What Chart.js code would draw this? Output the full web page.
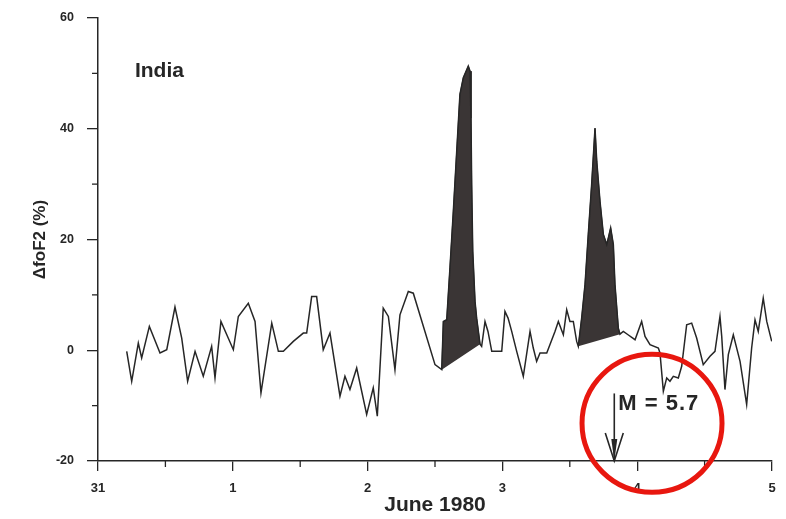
<!DOCTYPE html>
<html><head><meta charset="utf-8">
<script src="https://cdn.jsdelivr.net/npm/chart.js@4.4.1/dist/chart.umd.min.js"></script>
<style>html,body{margin:0;padding:0;background:#fff;}#wrap{width:786px;height:519px;}</style>
</head><body><div id="wrap"><canvas id="c" width="786" height="519"></canvas></div>
<script>
// Time in days since 31 May 1980 00:00
const days = [0.213,0.25,0.299,0.324,0.381,0.46,0.51,0.571,0.621,0.665,
0.72,0.781,0.843,0.868,0.912,1.004,1.041,1.115,1.165,1.209,
1.289,1.338,1.375,1.449,1.523,1.548,1.585,1.622,1.671,1.721,
1.795,1.832,1.869,1.919,1.993,2.042,2.072,2.116,2.154,2.203,
2.24,2.302,2.339,2.5,2.55,2.562,2.587,2.611,2.636,2.661,
2.685,2.71,2.747,2.76,2.767,2.772,2.78,2.797,2.809,2.834,
2.846,2.871,2.893,2.921,2.995,3.019,3.042,3.069,3.106,3.155,
3.205,3.229,3.254,3.279,3.329,3.39,3.415,3.452,3.477,3.501,
3.526,3.551,3.563,3.588,3.613,3.637,3.662,3.687,3.7,3.724,
3.749,3.774,3.786,3.803,3.823,3.835,3.86,3.872,3.897,3.932,
3.984,4.033,4.058,4.095,4.157,4.169,4.194,4.219,4.243,4.268,
4.305,4.33,4.367,4.404,4.441,4.49,4.54,4.577,4.614,4.627,
4.651,4.676,4.713,4.763,4.812,4.849,4.874,4.898,4.935,4.961,4.998];
// ΔfoF2 (%)
const dfoF2 = [-0.2,-5.6,1.3,-1.4,4.3,-0.5,0.1,7.8,2.2,-5.6,
-0.2,-4.7,0.7,-5.0,5.2,0.1,6.1,8.5,5.2,-7.7,
4.9,-0.2,-0.2,1.6,3.1,3.1,9.7,9.7,0.1,3.1,
-8.3,-4.7,-7.1,-3.2,-11.6,-6.8,-11.9,7.6,6.1,-3.5,
6.4,10.6,10.3,-2.6,-3.5,5.2,5.5,14.9,25.1,35.9,
46.2,49.2,51.3,50.4,41.9,30.0,17.9,8.8,5.8,1.1,
0.7,5.2,3.4,-0.2,-0.2,7.0,5.8,3.4,-0.2,-4.7,
3.4,0.4,-2.0,-0.5,-0.5,3.4,5.2,2.8,7.3,5.2,
5.2,1.6,0.7,5.8,11.9,20.9,29.9,40.1,34.1,26.9,
20.9,19.1,20.3,22.1,19.1,11.9,4.0,2.9,3.4,2.8,
1.9,5.2,2.5,1.0,0.4,-0.5,-7.4,-5.0,-5.6,-4.7,
-5.0,-2.9,4.6,4.9,2.2,-2.6,-1.1,-0.2,6.1,2.5,
-7.1,-0.8,2.8,-2.0,-9.8,0.4,5.5,3.4,9.4,5.2,1.6];
// Shaded enhancement windows (days)
const event1 = [2.55, 2.834];
const event2 = [3.563, 3.872];
const xTickLabels = ['31','1','2','3','4','5'];
const yMajorTicks = [-20, 0, 20, 40, 60];
const xTitle = 'June 1980';
const yTitle = 'ΔfoF2 (%)';
const stationName = 'India';
const quakeDay = 3.83;
const quakeLabel = 'M = 5.7';

const pts = days.map((d, i) => ({x: d, y: dfoF2[i]}));
const slice = (w) => pts.filter(p => p.x >= w[0] && p.x <= w[1]);
const FONT = '"Liberation Sans", Arial, sans-serif';
const INK = '#262626';

const extras = {
  id: 'extras',
  afterDraw(chart) {
    const {ctx, scales: {x, y}} = chart;
    ctx.save();
    ctx.strokeStyle = INK; ctx.lineWidth = 1.3;
    // minor ticks
    for (let v = -10; v < 60; v += 20) {
      const py = y.getPixelForValue(v);
      ctx.beginPath(); ctx.moveTo(x.left - 6, py); ctx.lineTo(x.left, py); ctx.stroke();
    }
    for (let d = 0.5; d < 5; d += 1) {
      const px = x.getPixelForValue(d);
      ctx.beginPath(); ctx.moveTo(px, y.bottom); ctx.lineTo(px, y.bottom + 6); ctx.stroke();
    }
    // station label
    ctx.fillStyle = INK;
    ctx.font = 'bold 21px ' + FONT;
    ctx.textAlign = 'left'; ctx.textBaseline = 'middle';
    ctx.fillText(stationName, x.getPixelForValue(0.274), y.getPixelForValue(50.4));
    // earthquake arrow
    const ax = x.getPixelForValue(quakeDay);
    const ay0 = y.getPixelForValue(-7.8), ay1 = y.getPixelForValue(-20);
    ctx.lineWidth = 1.6;
    ctx.beginPath(); ctx.moveTo(ax, ay0); ctx.lineTo(ax, ay1); ctx.stroke();
    ctx.beginPath();
    ctx.moveTo(ax - 9, ay1 - 28); ctx.lineTo(ax, ay1); ctx.lineTo(ax + 9, ay1 - 28);
    ctx.stroke();
    ctx.beginPath();
    ctx.moveTo(ax - 3, ay1 - 22); ctx.lineTo(ax, ay1); ctx.lineTo(ax + 3, ay1 - 22); ctx.closePath();
    ctx.fill();
    ctx.font = 'bold 22px ' + FONT;
    ctx.letterSpacing = '1px';
    ctx.fillText(quakeLabel, ax + 4, y.getPixelForValue(-9.7));
    ctx.letterSpacing = '0px';
    // red circle
    ctx.strokeStyle = '#e8170f'; ctx.lineWidth = 5;
    ctx.beginPath();
    ctx.ellipse(x.getPixelForValue(4.11), y.getPixelForValue(-13.2), 70, 69, 0, 0, Math.PI * 2);
    ctx.stroke();
    ctx.restore();
  }
};

new Chart(document.getElementById('c'), {
  type: 'line',
  data: {
    datasets: [
      {data: pts, borderColor: INK, borderWidth: 1.5, pointRadius: 0, tension: 0, fill: false, order: 0},
      {data: slice(event1), borderColor: '#3a3535', borderWidth: 1, backgroundColor: '#3a3535', pointRadius: 0, tension: 0, fill: 'shape', order: 1},
      {data: slice(event2), borderColor: '#3a3535', borderWidth: 1, backgroundColor: '#3a3535', pointRadius: 0, tension: 0, fill: 'shape', order: 2}
    ]
  },
  options: {
    responsive: false, animation: false, devicePixelRatio: 1,
    layout: {padding: {top: 18, right: 14, left: 0, bottom: 0}},
    plugins: {legend: {display: false}, tooltip: {enabled: false}},
    scales: {
      x: {
        type: 'linear', min: 0, max: 5,
        afterFit: s => { s.height = 58; },
        ticks: {stepSize: 1, autoSkip: false, maxRotation: 0, padding: 10, color: INK,
          font: {family: FONT, size: 13, weight: 'bold'},
          callback: v => Number.isInteger(v) ? xTickLabels[v] : ''},
        grid: {drawOnChartArea: false, drawTicks: true, tickLength: 10, color: INK, lineWidth: 1.3},
        border: {display: true, color: INK, width: 1.5},
        title: {display: true, text: xTitle, color: INK, font: {family: FONT, size: 21, weight: 'bold'}, padding: {top: 0, bottom: 1}}
      },
      y: {
        min: -20, max: 60,
        afterFit: s => { s.width = 98; s.paddingTop = 8; s.paddingBottom = 8; },
        ticks: {stepSize: 20, padding: 13, color: INK,
          font: {family: FONT, size: 12.5, weight: 'bold'},
          callback: v => yMajorTicks.includes(v) ? String(v) : ''},
        grid: {drawOnChartArea: false, drawTicks: true, tickLength: 11, color: INK, lineWidth: 1.3},
        border: {display: true, color: INK, width: 1.5},
        title: {display: true, text: yTitle, color: INK, font: {family: FONT, size: 17, weight: 'bold'}, padding: {top: 30, bottom: 0}}
      }
    }
  },
  plugins: [extras]
});
</script></body></html>
